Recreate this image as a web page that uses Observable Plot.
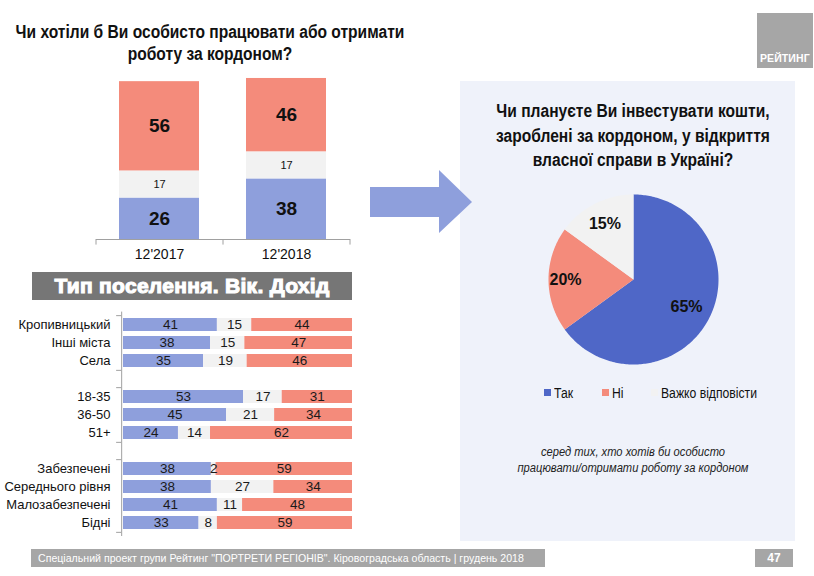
<!DOCTYPE html>
<html lang="uk">
<head>
<meta charset="utf-8">
<script src="https://cdn.jsdelivr.net/npm/d3@7"></script>
<script src="https://cdn.jsdelivr.net/npm/@observablehq/plot@0.6"></script>
<style>
  html, body { margin: 0; padding: 0; background: #fff; }
  #slide {
    position: relative; width: 814px; height: 576px; overflow: hidden;
    font-family: "Liberation Sans", Arial, sans-serif;
    color: #111;
  }
  .abs { position: absolute; }
  .title {
    font-weight: bold; font-size: 18px; line-height: 22px; text-align: center; color: #111;
    white-space: nowrap; transform: scaleX(0.865); transform-origin: 50% 0;
  }
  .panel { left: 460px; top: 81px; width: 335px; height: 460px; background: #eff2fa; }
  .header {
    left: 32px; top: 272px; width: 320px; height: 28px; background: #767676;
    color: #fff; font-weight: bold;
    font-size: 21px; line-height: 28px; text-align: center; letter-spacing: 0.3px;
    -webkit-text-stroke: 1.1px #fff; white-space: nowrap;
  }
  .legend { top: 384px; left: 540px; font-size: 14px; line-height: 18px; white-space: nowrap; }
  .legend span.item { position: absolute; top: 0; }
  .legend i { display: inline-block; width: 7px; height: 7px; margin-right: 3px; vertical-align: 2px; }
  .legend b { font-weight: normal; display: inline-block; transform: scaleX(0.87); transform-origin: 0 50%; }
  .note {
    left: 400px; width: 466px; top: 444px; text-align: center; font-style: italic;
    font-size: 12px; line-height: 16px; color: #222; white-space: nowrap;
    transform: scaleX(0.93); transform-origin: 50% 0;
  }
  .footer {
    left: 31px; top: 549px; width: 514px; height: 18px; background: #a6a6a6; color: #fff;
    font-size: 10.6px; line-height: 18px; padding-left: 7px; box-sizing: border-box; white-space: nowrap;
  }
  .page {
    left: 755px; top: 549px; width: 38px; height: 18px; background: #a6a6a6; color: #fff;
    font-weight: bold; font-size: 12px; line-height: 18px; text-align: center;
  }
  .logo {
    left: 757px; top: 13px; width: 56px; height: 55px; background: #a6a6a6; color: #fff;
    font-weight: bold; font-size: 10.5px;
  }
  .logo span { position: absolute; left: 3px; bottom: 4px; letter-spacing: 0.1px; }
</style>
</head>
<body>
<div id="slide">
  <div class="abs panel"></div>
  <div class="abs title" style="left:-40px;top:21px;width:500px;">Чи хотіли б Ви особисто працювати або отримати<br>роботу за кордоном?</div>
  <div class="abs title" style="left:410px;top:99px;width:446px;line-height:24.5px;">Чи плануєте Ви інвестувати кошти,<br>зароблені за кордоном, у відкриття<br>власної справи в Україні?</div>
  <div class="abs header">Тип поселення. Вік. Дохід</div>
  <svg class="abs" style="left:366px;top:166px" width="110" height="72">
    <polygon points="4,21 73,21 73,4 106,36 73,67 73,51 4,51" fill="#8e9fdc"/>
  </svg>
  <div class="abs legend" id="legend"></div>
  <div class="abs note">серед тих, хто хотів би особисто<br>працювати/отримати роботу за кордоном</div>
  <div class="abs footer">Спеціальний проект групи Рейтинг "ПОРТРЕТИ РЕГІОНІВ". Кіровоградська область | грудень 2018</div>
  <div class="abs page">47</div>
  <div class="abs logo"><span>РЕЙТИНГ</span></div>
</div>
<script>
// ---- Data ----
const answers = ["Так", "Важко відповісти", "Ні"];
const answerColors = ["#8e9fdc", "#f2f2f2", "#f48b7b"];

// Willingness to work abroad, by survey wave
const waves = ["12'2017", "12'2018"];
const waveYes = [26, 38];
const waveHard = [17, 17];
const waveNo = [56, 46];

// Breakdown by settlement type, age and income
const groups = ["Кропивницький", "Інші міста", "Села", "18-35", "36-50", "51+",
  "Забезпечені", "Середнього рівня", "Малозабезпечені", "Бідні"];
const groupYes = [41, 38, 35, 53, 45, 24, 38, 38, 41, 33];
const groupHard = [15, 15, 19, 17, 21, 14, 2, 27, 11, 8];
const groupNo = [44, 47, 46, 31, 34, 62, 59, 34, 48, 59];
const rowOrder = ["Кропивницький", "Інші міста", "Села", " ",
  "18-35", "36-50", "51+", "  ",
  "Забезпечені", "Середнього рівня", "Малозабезпечені", "Бідні"];
const blockTops = ["Кропивницький", "18-35", "Забезпечені"];
const blockBottoms = ["Села", "51+", "Бідні"];

// Plans to invest earnings abroad into own business in Ukraine
const pieAnswers = ["Так", "Ні", "Важко відповісти"];
const pieShares = [65, 20, 15];
const pieColors = ["#4f67c7", "#f48b7b", "#f2f2f2"];

const FONT = '"Liberation Sans", Arial, sans-serif';
const slide = document.getElementById("slide");
function place(node, left, top) {
  node.style.position = "absolute";
  node.style.left = left + "px";
  node.style.top = top + "px";
  node.style.fontFamily = FONT;
  node.style.background = "none";
  node.style.overflow = "visible";
  slide.appendChild(node);
}

// ---- Column chart: two waves ----
const waveRows = waves.flatMap((w, i) => [
  {wave: w, answer: answers[0], value: waveYes[i]},
  {wave: w, answer: answers[1], value: waveHard[i]},
  {wave: w, answer: answers[2], value: waveNo[i]}
]);
const half = 63.5;
const colChart = Plot.plot({
  width: 294, height: 210,
  marginLeft: 20, marginRight: 20, marginTop: 10, marginBottom: 31,
  x: {domain: waves, paddingInner: 0.37, paddingOuter: 0.185, label: null},
  y: {domain: [0, 106], axis: null},
  color: {domain: answers, range: answerColors},
  marks: [
    Plot.barY(waveRows, {x: "wave", y: "value", fill: "answer"}),
    Plot.ruleY([0], {stroke: "#a0a0a0"}),
    Plot.ruleX(waves, {x: d => d, dx: -half, y1: 0, y2: -3.5, stroke: "#a0a0a0"}),
    Plot.ruleX(waves.slice(-1), {x: d => d, dx: half, y1: 0, y2: -3.5, stroke: "#a0a0a0"}),
    // large bold labels for Так / Ні, small label for the middle segment
    Plot.text(waveRows, Plot.stackY({x: "wave", y: "value", z: "answer",
      text: d => d.answer !== answers[1] ? String(d.value) : "",
      fontSize: 19, fontWeight: "bold", fill: "#111"})),
    Plot.text(waveRows, Plot.stackY({x: "wave", y: "value", z: "answer",
      text: d => d.answer === answers[1] ? String(d.value) : "",
      fontSize: 11, fill: "#111"})),
    Plot.axisX({tickSize: 0, tickPadding: 10, fontSize: 14, fill: "#111"})
  ]
});
place(colChart, 76, 60);

// ---- Horizontal 100% bars by group ----
const groupRows = groups.flatMap((g, i) => [
  {group: g, answer: answers[0], value: groupYes[i]},
  {group: g, answer: answers[1], value: groupHard[i]},
  {group: g, answer: answers[2], value: groupNo[i]}
]);
const step = 18.7;
const barChart = Plot.plot({
  width: 360, height: 245,
  marginLeft: 123, marginRight: 8, marginTop: 11.6, marginBottom: 9,
  x: {domain: [0, 1], axis: null},
  y: {domain: rowOrder, paddingInner: 0.27, paddingOuter: 0.135, label: null},
  color: {domain: answers, range: answerColors},
  marks: [
    Plot.barX(groupRows, Plot.stackX({y: "group", x: "value", fill: "answer", offset: "normalize"})),
    Plot.text(groupRows, Plot.stackX({y: "group", x: "value", z: "answer", text: "value",
      offset: "normalize", fontSize: 13.5, fill: "#1a1a1a"})),
    Plot.ruleX([-0.008], {stroke: "#a0a0a0"}),
    Plot.ruleY(blockTops, {y: d => d, dy: -step / 2, x1: -0.03, x2: -0.008, stroke: "#a0a0a0"}),
    Plot.ruleY(blockBottoms, {y: d => d, dy: step / 2, x1: -0.03, x2: -0.008, stroke: "#a0a0a0"}),
    Plot.axisY({tickSize: 0, tickPadding: 13, fontSize: 13, fill: "#111"})
  ]
});
place(barChart, 0, 300);

// ---- Pie chart ----
let acc = 0;
const slices = pieAnswers.map((a, i) => {
  const a0 = acc / 100 * 2 * Math.PI;
  acc += pieShares[i];
  const a1 = acc / 100 * 2 * Math.PI;
  return {answer: a, share: pieShares[i], a0, a1};
});
// each slice outline: centre, then its arc traced clockwise from 12 o'clock
const outline = slices.flatMap(s => {
  const pts = [{answer: s.answer, x: 0, y: 0}];
  const n = Math.max(2, Math.ceil((s.a1 - s.a0) / (Math.PI / 180)));
  for (let k = 0; k <= n; k++) {
    const t = s.a0 + (s.a1 - s.a0) * k / n;
    pts.push({answer: s.answer, x: Math.sin(t), y: Math.cos(t)});
  }
  return pts;
});
const labelR = [0.7, 0.8, 0.74];
const pieLabels = slices.map((s, i) => {
  const m = (s.a0 + s.a1) / 2;
  return {text: s.share + "%", x: labelR[i] * Math.sin(m), y: labelR[i] * Math.cos(m)};
});
const pie = Plot.plot({
  width: 186, height: 186, margin: 8,
  x: {domain: [-1, 1], axis: null},
  y: {domain: [-1, 1], axis: null},
  color: {domain: pieAnswers, range: pieColors},
  marks: [
    Plot.line(outline, {x: "x", y: "y", z: "answer", fill: "answer", stroke: null, curve: "linear-closed"}),
    Plot.text(pieLabels, {x: "x", y: "y", text: "text", fontSize: 16, fontWeight: "bold", fill: "#111"})
  ]
});
place(pie, 540, 186);

// ---- Pie legend ----
const legend = document.getElementById("legend");
const legendX = [4, 62, 111];
pieAnswers.forEach((a, i) => {
  const item = document.createElement("span");
  item.className = "item";
  item.style.left = legendX[i] + "px";
  const sw = document.createElement("i");
  sw.style.background = pieColors[i];
  item.appendChild(sw);
  const label = document.createElement("b");
  label.textContent = a;
  item.appendChild(label);
  legend.appendChild(item);
});
</script>
</body>
</html>
